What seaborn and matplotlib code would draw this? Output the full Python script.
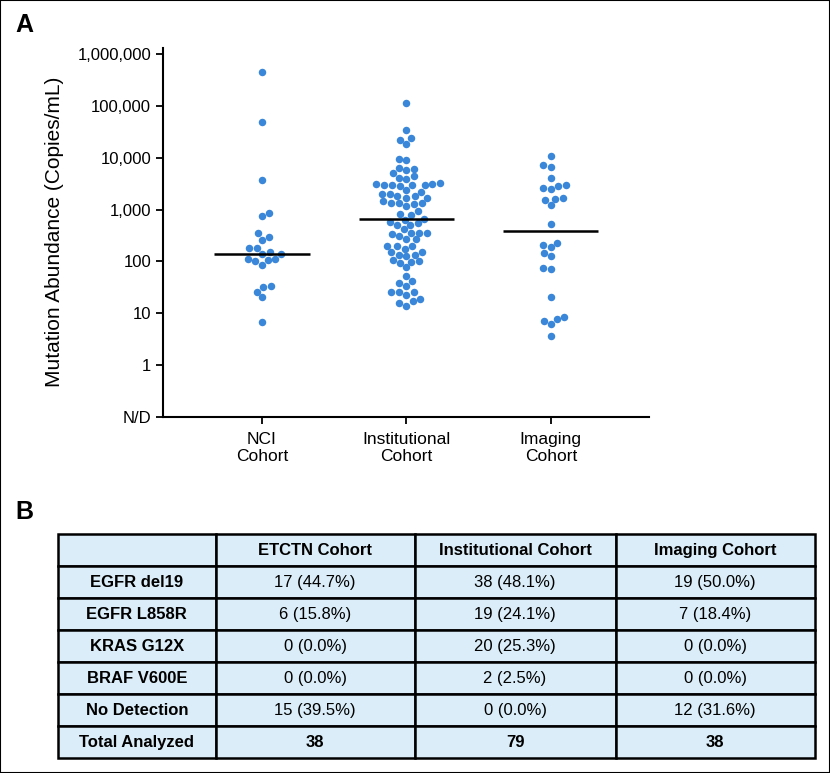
import numpy as np
import pandas as pd
import matplotlib
matplotlib.use("Agg")
import matplotlib.pyplot as plt
from matplotlib.patches import Rectangle
import seaborn as sns

# Panel A data: mutation abundance (copies/mL), detected samples only
cohorts = ["NCI\nCohort", "Institutional\nCohort", "Imaging\nCohort"]

nci_values = [460000, 50000, 3700, 870, 750, 355, 295, 263, 177, 177, 137, 137,
              148, 100, 110, 113, 106, 84, 33, 32, 26, 20, 6.6]

institutional_values = [116000, 34500,
                        3170,
                        3170, 1810, 411,
                        3960, 2820, 2220, 1830, 1340, 659, 498, 354, 199, 133, 98, 25, 19, 14,
                        24500, 18800, 9640, 6460, 5170, 3030, 1700, 1340, 940, 776, 640, 339,
                        267, 176, 133, 92, 34, 25,
                        22400, 9220, 5820, 2990, 2390, 2030, 1700, 1450, 1175, 836, 586, 305,
                        199, 148, 102, 76, 51, 38, 26, 16,
                        6180, 4080, 2950, 1970, 1300, 498, 359, 267, 199, 148, 127, 107, 42, 22, 17,
                        4400, 3320, 1320, 544, 359,
                        2990]

imaging_values = [10800, 6650, 7250, 4000, 2970, 2460, 2650, 2820, 1590, 1700, 1510,
                  1200, 535, 190, 209, 230, 126, 144, 71, 74, 20.6, 7.1, 8.5, 7.6, 6.1, 3.6]

ytick_values = [0.1, 1, 10, 100, 1000, 10000, 100000, 1000000]
ytick_labels = ["N/D", "1", "10", "100", "1,000", "10,000", "100,000", "1,000,000"]

# Panel B data
table_header = ["", "ETCTN Cohort", "Institutional Cohort", "Imaging Cohort"]
row_labels = ["EGFR del19", "EGFR L858R", "KRAS G12X", "BRAF V600E", "No Detection", "Total Analyzed"]
etctn_col = ["17 (44.7%)", "6 (15.8%)", "0 (0.0%)", "0 (0.0%)", "15 (39.5%)", "38"]
inst_col = ["38 (48.1%)", "19 (24.1%)", "20 (25.3%)", "2 (2.5%)", "0 (0.0%)", "79"]
imaging_col = ["19 (50.0%)", "7 (18.4%)", "0 (0.0%)", "0 (0.0%)", "12 (31.6%)", "38"]

dot_color = "#3a86d8"
cell_color = "#daedf8"

df = pd.DataFrame({
    "cohort": [cohorts[0]] * len(nci_values) + [cohorts[1]] * len(institutional_values)
              + [cohorts[2]] * len(imaging_values),
    "value": nci_values + institutional_values + imaging_values,
})
df["log_value"] = np.log10(df["value"])

sns.set_style("ticks")
plt.rcParams["font.family"] = ["Liberation Sans", "DejaVu Sans"]
plt.rcParams["text.color"] = "black"
plt.rcParams["axes.labelcolor"] = "black"

fig = plt.figure(figsize=(8.3, 7.73), dpi=100)

#%% Panel A
ax = fig.add_axes([0.1964, 0.461, 0.5855, 0.477])
sns.swarmplot(data=df, x="cohort", y="log_value", order=cohorts, color=dot_color,
              size=5.4, ax=ax, zorder=3)

# median line per cohort
for i, c in enumerate(cohorts):
    med = np.median(df.loc[df["cohort"] == c, "value"])
    ax.hlines(np.log10(med), i - 0.33, i + 0.33, color="black", lw=1.8, zorder=4)

ax.set_xlim(-0.685, 2.68)
ax.set_ylim(-1, 6.12)
ax.set_yticks(np.log10(ytick_values))
ax.set_yticklabels(ytick_labels)
ax.set_xlabel("")
ax.set_ylabel("Mutation Abundance (Copies/mL)", fontsize=15, labelpad=10)
ax.tick_params(axis="both", width=1.3, length=5, color="black", labelcolor="black")
ax.tick_params(axis="y", labelsize=12)
ax.tick_params(axis="x", labelsize=12.5, pad=6)
for s in ["left", "bottom"]:
    ax.spines[s].set_linewidth(1.5)
    ax.spines[s].set_color("black")
sns.despine(ax=ax)

fig.text(0.018, 0.968, "A", fontsize=18, fontweight="bold", va="center")
fig.text(0.018, 0.338, "B", fontsize=18, fontweight="bold", va="center")

#%% Panel B table
tax = fig.add_axes([0.0699, 0.019, 0.912, 0.29])
tax.axis("off")
cell_text = [table_header] + [[r, a, b, c] for r, a, b, c in zip(row_labels, etctn_col, inst_col, imaging_col)]
widths = np.array([157.5, 199, 201, 199.3])
widths = widths / widths.sum()
tbl = tax.table(cellText=cell_text, colWidths=widths, cellLoc="center",
                bbox=[0, 0, 1, 1])
tbl.auto_set_font_size(False)
for (r, c), cell in tbl.get_celld().items():
    cell.set_facecolor(cell_color)
    cell.set_edgecolor("black")
    cell.set_linewidth(1.8)
    txt = cell.get_text()
    txt.set_fontsize(12)
    if r == 0 or c == 0 or r == len(cell_text) - 1:
        txt.set_fontweight("bold")

fig.patches.append(Rectangle((0, 0), 1, 1, transform=fig.transFigure, fill=False,
                             edgecolor="black", lw=1.5))

fig.savefig("out.png", dpi=100)
